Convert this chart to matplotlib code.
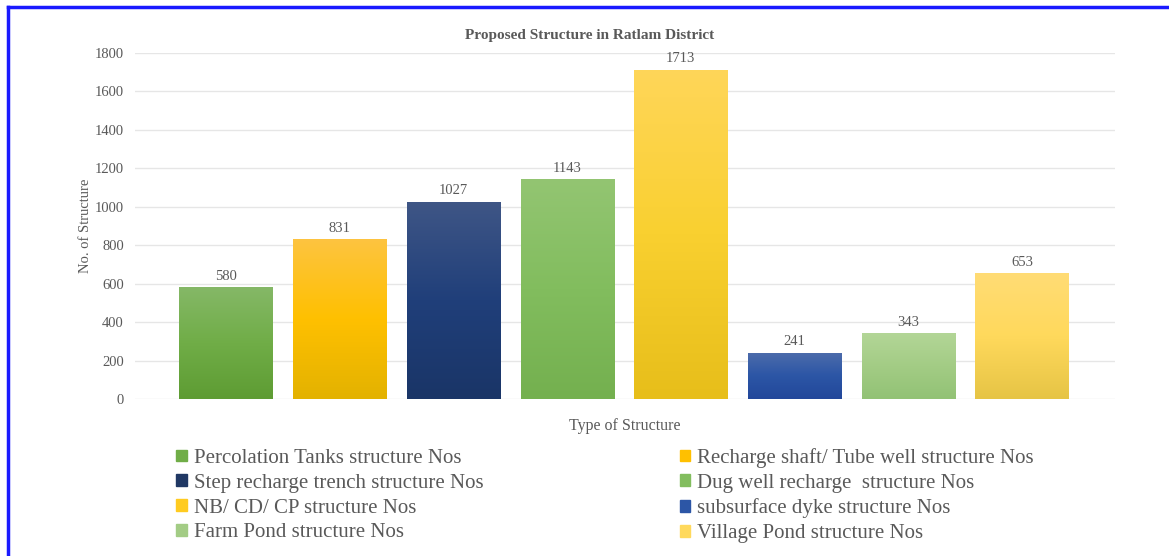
import numpy as np
import matplotlib.pyplot as plt
from matplotlib.colors import LinearSegmentedColormap
from matplotlib.lines import Line2D

# -------------------------------
# Data
# -------------------------------
labels = ["Percolation Tanks structure Nos",
          "Recharge shaft/ Tube well structure Nos",
          "Step recharge trench structure Nos",
          "Dug well recharge  structure Nos",
          "NB/ CD/ CP structure Nos",
          "subsurface dyke structure Nos",
          "Farm Pond structure Nos",
          "Village Pond structure Nos"]
values = [580, 831, 1027, 1143, 1713, 241, 343, 653]

# top / middle / bottom colours of each bar gradient
grad_top = ["#85b867", "#fdc440", "#3f5686", "#93c572", "#ffd659", "#4d6cab", "#b3d697", "#ffdc75"]
grad_mid = ["#70ad47", "#ffc000", "#203f7a", "#82bd5e", "#f9d030", "#2c56a6", "#a3cc85", "#ffd95c"]
grad_bot = ["#5e9c33", "#e3b200", "#1a3567", "#74b04f", "#e7be1a", "#22479a", "#92c275", "#e6c445"]
legend_cols = ["#70ad47", "#ffc000", "#203864", "#82bd5e", "#ffcb20", "#2c56a6", "#a3cc85", "#ffd95c"]

txt = "#595959"
plt.rcParams['font.family'] = ['Liberation Serif', 'DejaVu Serif']

fig = plt.figure(figsize=(11.69, 5.56), dpi=100)
ax = fig.add_axes([0.1155, 0.2824, 0.8385, 0.6223])

x = np.arange(len(values))
w = 0.82
bars = ax.bar(x, values, width=w, color=legend_cols, zorder=2)

# gradient fill clipped to each bar
for i, b in enumerate(bars):
    cmap = LinearSegmentedColormap.from_list("g%d" % i, [grad_bot[i], grad_mid[i], grad_top[i]])
    grad = np.linspace(1, 0, 256).reshape(-1, 1)
    im = ax.imshow(grad, cmap=cmap, aspect='auto', zorder=3,
                   extent=(b.get_x(), b.get_x() + w, 0, values[i]))
    im.set_clip_path(b)
    ax.text(x[i], values[i] + 22, str(values[i]), ha='center', va='bottom',
            fontsize=10.5, color=txt)

ax.set_xlim(-0.8, 7.82)
ax.set_ylim(0, 1800)
ax.set_yticks(range(0, 1801, 200))
ax.set_xticks([])
ax.tick_params(axis='y', length=0, pad=8, labelsize=10.5, labelcolor=txt)
ax.grid(axis='y', color="#e6e6e6", lw=1, zorder=0)
for s in ax.spines.values():
    s.set_visible(False)

ax.set_ylabel("No. of Structure", fontsize=10.5, color=txt, labelpad=2)
ax.set_xlabel("Type of Structure", fontsize=11.5, color=txt, labelpad=14)
fig.text(0.504, 0.936, "Proposed Structure in Ratlam District", ha='center', va='center',
         fontsize=11, fontweight='bold', color=txt)

# legend, row-major order like the source
order = [0, 2, 4, 6, 1, 3, 5, 7]
handles = [plt.Rectangle((0, 0), 1, 1, color=legend_cols[i]) for i in order]
fig.legend(handles, [labels[i] for i in order], ncol=2, loc='upper left',
           bbox_to_anchor=(0.142, 0.213), frameon=False, fontsize=15,
           handlelength=0.5, handleheight=0.5, handletextpad=0.35,
           labelspacing=0.28, columnspacing=9.4, borderpad=0, labelcolor=txt)

# blue frame (top and left edges visible)
fig.add_artist(Line2D([0.0065, 1.0], [0.987, 0.987], color="#1a1aff", lw=2.5))
fig.add_artist(Line2D([0.0065, 0.0065], [0.0, 0.987], color="#1a1aff", lw=2.5))

fig.savefig("out.png", dpi=100)
